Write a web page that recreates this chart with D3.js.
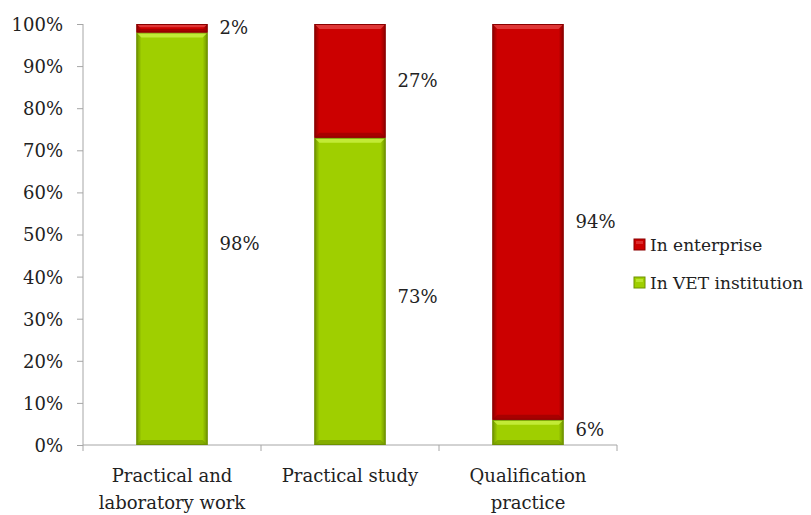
<!DOCTYPE html>
<html>
<head>
<meta charset="utf-8">
<script src="https://cdn.jsdelivr.net/npm/d3@7"></script>
<style>
  html, body { margin: 0; padding: 0; background: #fff; }
  svg { display: block; }
</style>
</head>
<body>
<svg id="chart" width="811" height="515"></svg>
<script>
// Share of practical training by place
const categories = [["Practical and", "laboratory work"], ["Practical study"], ["Qualification", "practice"]];
const inVET = [98, 73, 6];
const inEnterprise = [2, 27, 94];
const seriesNames = ["In enterprise", "In VET institution"];
const yTicks = [0, 10, 20, 30, 40, 50, 60, 70, 80, 90, 100];

const FONT = "'DejaVu Serif', serif";
const svg = d3.select("#chart").style("font-family", FONT);
const x0 = 83, x1 = 617;
const y0 = 445, y1 = 24;

const x = d3.scaleBand().domain(d3.range(categories.length)).range([x0, x1]).paddingInner(0.6).paddingOuter(0.3);
const xb = d3.scaleBand().domain(d3.range(categories.length)).range([x0, x1]);
const y = d3.scaleLinear().domain([0, 100]).range([y0, y1]);

// bevel gradients
const defs = svg.append("defs");
function bevel(id, dark, base, light) {
  const h = defs.append("linearGradient").attr("id", id + "-h").attr("x1", 0).attr("x2", 1).attr("y1", 0).attr("y2", 0);
  [[0, dark], [0.07, base], [0.93, base], [1, dark]].forEach(([o, c]) =>
    h.append("stop").attr("offset", o).attr("stop-color", c));
  return { dark, base, light };
}
const green = bevel("g", "#6e9200", "#9fcf00", "#c8ee40");
const red = bevel("r", "#8a0000", "#cc0000", "#e24040");

const axisColor = "#a6a6a6";
const textColor = "#222";

// y axis
const yAxis = svg.append("g").attr("transform", `translate(${x0},0)`)
  .call(d3.axisLeft(y).tickValues(yTicks).tickFormat(d => d + "%").tickSize(6).tickPadding(14));
yAxis.attr("font-family", null);
yAxis.select(".domain").attr("stroke", axisColor).attr("d", `M0,${y0}V${y1}`);
yAxis.selectAll(".tick line").attr("stroke", axisColor);
yAxis.selectAll(".tick text").attr("font-size", 18).attr("fill", textColor)
  .style("font-family", FONT).attr("dy", "0.36em");

// x axis line and category separators
svg.append("line").attr("x1", x0).attr("x2", x1).attr("y1", y0).attr("y2", y0).attr("stroke", axisColor);
svg.selectAll(".xtick").data(d3.range(categories.length + 1)).enter().append("line")
  .attr("x1", i => x0 + i * xb.bandwidth()).attr("x2", i => x0 + i * xb.bandwidth())
  .attr("y1", y0).attr("y2", y0 + 6).attr("stroke", axisColor);

function drawSeg(g, xs, w, v0, v1, col, id) {
  const top = y(v1), bot = y(v0), h = bot - top;
  if (h <= 0) return;
  g.append("rect").attr("x", xs).attr("y", top).attr("width", w).attr("height", h)
    .attr("fill", `url(#${id}-h)`);
  const b = Math.min(5, h / 2.5);
  // top highlight bevel
  g.append("path").attr("d", `M${xs},${top}H${xs + w}L${xs + w - b},${top + b}H${xs + b}Z`).attr("fill", col.light).attr("opacity", 0.85);
  // bottom shade bevel
  g.append("path").attr("d", `M${xs},${bot}H${xs + w}L${xs + w - b},${bot - b}H${xs + b}Z`).attr("fill", col.dark).attr("opacity", 0.55);
  g.append("rect").attr("x", xs + 0.5).attr("y", top + 0.5).attr("width", w - 1).attr("height", h - 1)
    .attr("fill", "none").attr("stroke", col.dark).attr("stroke-width", 1);
}

const bars = svg.append("g");
categories.forEach((c, i) => {
  const xs = x(i), w = x.bandwidth();
  drawSeg(bars, xs, w, 0, inVET[i], green, "g");
  drawSeg(bars, xs, w, inVET[i], inVET[i] + inEnterprise[i], red, "r");
});

// value labels
const lab = svg.append("g").attr("fill", textColor).attr("font-size", 18);
categories.forEach((c, i) => {
  const lx = x(i) + x.bandwidth() + 12;
  const gy = y(inVET[i] / 2);
  const ry = y(inVET[i] + inEnterprise[i] / 2);
  lab.append("text").attr("x", lx).attr("y", inVET[i] < 10 ? gy - 3 : gy + 5).attr("dy", "0.36em").text(inVET[i] + "%");
  lab.append("text").attr("x", lx).attr("y", inEnterprise[i] < 10 ? y(100) + 4 : ry).attr("dy", "0.36em").text(inEnterprise[i] + "%");
});

// category labels
categories.forEach((lines, i) => {
  const cx = xb(i) + xb.bandwidth() / 2;
  const t = svg.append("text").attr("x", cx).attr("y", 482).attr("fill", textColor)
    .attr("text-anchor", "middle").attr("font-size", 18);
  lines.forEach((l, k) => t.append("tspan").attr("x", cx).attr("dy", k === 0 ? 0 : 27).text(l));
});

// legend
const legend = svg.append("g").attr("transform", "translate(634,236)");
[[seriesNames[0], red], [seriesNames[1], green]].forEach(([name, col], k) => {
  const g = legend.append("g").attr("transform", `translate(0,${k * 38})`);
  g.append("rect").attr("x", 0).attr("y", 3).attr("width", 11).attr("height", 11).attr("fill", col.base).attr("stroke", col.dark);
  g.append("rect").attr("x", 2).attr("y", 5).attr("width", 7).attr("height", 3).attr("fill", col.light).attr("opacity", 0.7);
  g.append("text").attr("x", 16).attr("y", 9).attr("dy", "0.36em").attr("fill", textColor).attr("font-size", 17).text(name);
});
</script>
</body>
</html>
